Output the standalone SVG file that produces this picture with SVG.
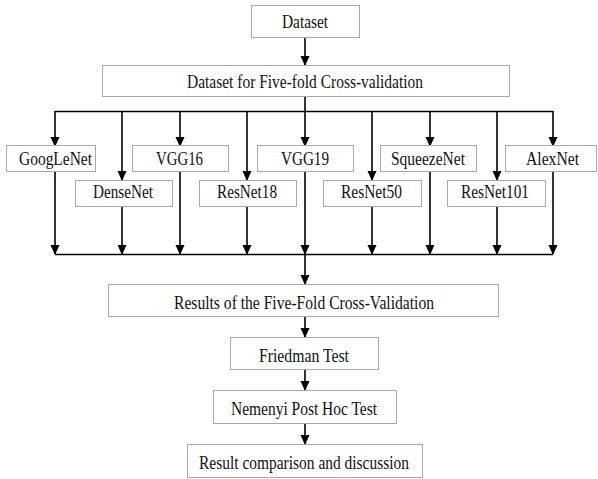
<svg xmlns="http://www.w3.org/2000/svg" width="598" height="479" viewBox="0 0 598 479">
<defs>
<marker id="ah" markerUnits="userSpaceOnUse" markerWidth="9" markerHeight="11" refX="9" refY="4.5" orient="auto" viewBox="0 0 9 11">
<path d="M0,0 L10,4.5 L0,9 z" fill="#000"/>
</marker>
<style>
.box{fill:#fff;stroke:#a8a8a8;stroke-width:1}
.t{font-family:"Liberation Serif","Times New Roman",serif;font-size:18px;fill:#111;text-anchor:middle}
.c{stroke:#000;stroke-width:1.6;fill:none}
.a{marker-end:url(#ah)}
</style>
</defs>
<rect width="598" height="479" fill="#fff"/>
<g id="connectors">
<line class="c a" x1="305" y1="37" x2="305" y2="65"/>
<line class="c" x1="305" y1="97" x2="305" y2="111"/>
<line class="c" x1="55" y1="111.5" x2="553" y2="111.5"/>
<line class="c a" x1="55" y1="111" x2="55" y2="146"/>
<line class="c a" x1="180" y1="111" x2="180" y2="146"/>
<line class="c a" x1="305" y1="111" x2="305" y2="146"/>
<line class="c a" x1="430" y1="111" x2="430" y2="146"/>
<line class="c a" x1="553" y1="111" x2="553" y2="146"/>
<line class="c a" x1="122" y1="111" x2="122" y2="180"/>
<line class="c a" x1="247" y1="111" x2="247" y2="180"/>
<line class="c a" x1="372" y1="111" x2="372" y2="180"/>
<line class="c a" x1="497" y1="111" x2="497" y2="180"/>
<line class="c a" x1="55" y1="172" x2="55" y2="254"/>
<line class="c a" x1="180" y1="172" x2="180" y2="254"/>
<line class="c a" x1="305" y1="172" x2="305" y2="254"/>
<line class="c a" x1="430" y1="172" x2="430" y2="254"/>
<line class="c a" x1="553" y1="172" x2="553" y2="254"/>
<line class="c a" x1="122" y1="206" x2="122" y2="254"/>
<line class="c a" x1="247" y1="206" x2="247" y2="254"/>
<line class="c a" x1="372" y1="206" x2="372" y2="254"/>
<line class="c a" x1="497" y1="206" x2="497" y2="254"/>
<line class="c" x1="55" y1="254.5" x2="553" y2="254.5"/>
<line class="c a" x1="305" y1="254" x2="305" y2="284"/>
<line class="c a" x1="305" y1="316" x2="305" y2="337"/>
<line class="c a" x1="305" y1="369" x2="305" y2="390"/>
<line class="c a" x1="305" y1="423" x2="305" y2="444"/>
</g>
<g id="dataset"><rect class="box" x="251.5" y="5.5" width="108" height="32"/><text class="t" x="305" y="28" textLength="46" lengthAdjust="spacingAndGlyphs">Dataset</text></g>
<g id="cv"><rect class="box" x="102.5" y="65.5" width="407" height="31"/><text class="t" x="305" y="88" textLength="236" lengthAdjust="spacingAndGlyphs">Dataset for Five-fold Cross-validation</text></g>
<g id="googlenet"><rect class="box" x="6.5" y="145.5" width="89" height="26"/><text class="t" x="55.5" y="165" textLength="73" lengthAdjust="spacingAndGlyphs">GoogLeNet</text></g>
<g id="vgg16"><rect class="box" x="132.5" y="145.5" width="96" height="26"/><text class="t" x="179.5" y="165" textLength="47" lengthAdjust="spacingAndGlyphs">VGG16</text></g>
<g id="vgg19"><rect class="box" x="257.5" y="145.5" width="96" height="26"/><text class="t" x="305" y="165" textLength="48" lengthAdjust="spacingAndGlyphs">VGG19</text></g>
<g id="squeezenet"><rect class="box" x="380.5" y="145.5" width="96" height="26"/><text class="t" x="428" y="165" textLength="74" lengthAdjust="spacingAndGlyphs">SqueezeNet</text></g>
<g id="alexnet"><rect class="box" x="505.5" y="145.5" width="91" height="26"/><text class="t" x="552.5" y="165" textLength="53" lengthAdjust="spacingAndGlyphs">AlexNet</text></g>
<g id="densenet"><rect class="box" x="75.5" y="180.5" width="97" height="26"/><text class="t" x="123" y="198" textLength="60" lengthAdjust="spacingAndGlyphs">DenseNet</text></g>
<g id="resnet18"><rect class="box" x="199.5" y="180.5" width="97" height="26"/><text class="t" x="247" y="198" textLength="60" lengthAdjust="spacingAndGlyphs">ResNet18</text></g>
<g id="resnet50"><rect class="box" x="323.5" y="180.5" width="98" height="26"/><text class="t" x="371.5" y="198" textLength="61" lengthAdjust="spacingAndGlyphs">ResNet50</text></g>
<g id="resnet101"><rect class="box" x="447.5" y="180.5" width="98" height="26"/><text class="t" x="495" y="198" textLength="68" lengthAdjust="spacingAndGlyphs">ResNet101</text></g>
<g id="results"><rect class="box" x="108.5" y="284.5" width="390" height="32"/><text class="t" x="304" y="309" textLength="260" lengthAdjust="spacingAndGlyphs">Results of the Five-Fold Cross-Validation</text></g>
<g id="friedman"><rect class="box" x="230.5" y="337.5" width="148" height="32"/><text class="t" x="304" y="362" textLength="90" lengthAdjust="spacingAndGlyphs">Friedman Test</text></g>
<g id="nemenyi"><rect class="box" x="213.5" y="390.5" width="183" height="33"/><text class="t" x="304" y="415" textLength="146" lengthAdjust="spacingAndGlyphs">Nemenyi Post Hoc Test</text></g>
<g id="result"><rect class="box" x="187.5" y="444.5" width="235" height="33"/><text class="t" x="304" y="469" textLength="210" lengthAdjust="spacingAndGlyphs">Result comparison and discussion</text></g>
</svg>
